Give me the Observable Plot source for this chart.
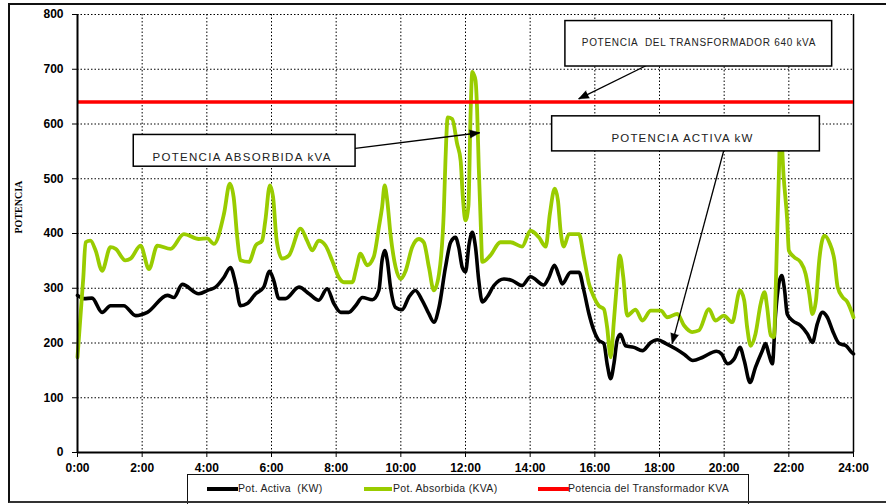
<!DOCTYPE html>
<html>
<head>
<meta charset="utf-8">
<script src="https://cdn.jsdelivr.net/npm/d3@7"></script>
<script src="https://cdn.jsdelivr.net/npm/@observablehq/plot@0.6"></script>
<style>
  body { margin: 0; background: #fff; }
  #wrap { position: relative; width: 886px; height: 504px; overflow: hidden; font-family: Arial, "Liberation Sans", sans-serif; background:#fff; }
  #chart { position: absolute; left: 0; top: 0; }
  #frame { position: absolute; left: 8px; top: 3px; width: 900px; height: 500px; box-sizing: border-box;
           border-top: 2px solid #111; border-left: 2px solid #111; border-bottom: 2px solid #333; pointer-events: none; }
  #legend { position: absolute; left: 187px; top: 474px; width: 562px; height: 32px; box-sizing: border-box;
            border: 1.5px solid #111; background: #fff; font-size: 10.5px; color: #222; }
  #legend .sw { position: absolute; top: 12px; height: 4px; }
  #legend .lb { position: absolute; top: 7px; white-space: pre; letter-spacing: 0.3px; }
</style>
</head>
<body>
<div id="wrap">
  <div id="chart"></div>
  <div id="legend"></div>
  <div id="frame"></div>
</div>
<script>
// ---- Data ----
const horasTicks = [0, 2, 4, 6, 8, 10, 12, 14, 16, 18, 20, 22, 24];
const potenciaTicks = [0, 100, 200, 300, 400, 500, 600, 700, 800];

const activaHoras = [0,0.20,0.45,0.76,1.02,1.43,1.80,2.16,2.78,2.98,
  3.24,3.75,4.06,4.27,4.53,4.73,4.89,5.04,5.25,5.51,
  5.76,5.94,6.07,6.23,6.43,6.85,7.16,7.46,7.72,7.93,
  8.14,8.39,8.60,8.81,9.12,9.32,9.42,9.50,9.58,9.68,
  9.84,10.04,10.25,10.45,10.66,10.87,11.02,11.18,11.38,11.54,
  11.69,11.79,11.90,12.00,12.11,12.21,12.31,12.41,12.52,12.67,
  12.88,13.19,13.45,13.75,14.01,14.42,14.58,14.75,14.89,14.99,
  15.25,15.51,15.66,15.82,15.97,16.12,16.28,16.38,16.49,16.59,
  16.69,16.79,16.95,17.21,17.47,17.73,17.94,18.20,18.51,18.77,
  19.03,19.34,19.76,19.92,20.10,20.31,20.49,20.62,20.80,20.97,
  21.18,21.28,21.38,21.49,21.59,21.69,21.78,21.87,21.95,22.11,
  22.36,22.57,22.73,22.88,23.04,23.19,23.35,23.56,23.77,23.94,
  24.00];
const activa = [287,281,282,256,268,268,250,256,287,283,
  307,290,297,302,320,338,308,268,272,290,
  302,331,314,281,281,302,290,278,299,272,
  256,256,268,283,279,296,351,369,351,302,
  265,261,284,296,278,253,238,265,338,384,
  393,375,338,330,380,402,375,314,275,284,
  305,317,314,305,321,306,320,342,323,308,
  329,329,296,253,223,205,199,162,135,162,
  205,216,195,192,186,201,206,199,189,179,
  168,174,185,180,162,171,192,168,128,156,
  186,199,180,162,253,308,323,296,253,241,
  232,217,201,235,256,247,223,199,195,183,
  180];

const absorbidaHoras = [0,0.18,0.25,0.40,0.56,0.76,1.02,1.18,1.48,1.64,
  1.95,2.21,2.47,2.88,3.29,3.75,4.01,4.22,4.53,4.71,
  4.83,4.94,5.04,5.30,5.51,5.71,5.81,5.95,6.05,6.16,
  6.33,6.54,6.90,7.10,7.26,7.46,7.67,7.88,8.08,8.24,
  8.50,8.63,8.75,8.96,9.16,9.32,9.42,9.50,9.58,9.68,
  9.84,9.99,10.15,10.35,10.56,10.71,10.87,11.02,11.18,11.33,
  11.38,11.45,11.59,11.74,11.85,11.91,12.00,12.09,12.16,12.21,
  12.26,12.31,12.36,12.41,12.47,12.52,12.77,13.08,13.39,13.75,
  14.01,14.27,14.48,14.61,14.76,14.86,14.94,15.04,15.20,15.51,
  15.66,15.82,15.97,16.12,16.28,16.38,16.49,16.59,16.69,16.77,
  16.88,17.00,17.26,17.47,17.73,18.04,18.24,18.55,18.76,19.01,
  19.22,19.53,19.73,19.99,20.25,20.49,20.62,20.71,20.82,20.97,
  21.13,21.25,21.33,21.44,21.54,21.59,21.64,21.69,21.74,21.84,
  21.95,22.00,22.16,22.36,22.52,22.63,22.73,22.84,22.94,23.10,
  23.25,23.41,23.51,23.66,23.81,24.00];
const absorbida = [174,320,384,387,369,332,375,372,351,354,
  378,335,378,372,399,390,391,381,436,491,
  466,393,351,348,378,387,424,488,466,387,
  354,360,409,387,369,387,378,350,320,311,
  311,338,363,342,357,411,448,488,460,399,
  338,317,332,375,390,384,338,296,326,442,
  533,612,609,564,533,473,424,450,625,695,
  690,680,625,521,420,348,360,384,384,376,
  405,393,376,436,482,460,405,376,399,399,
  357,308,284,268,262,229,174,241,314,360,
  320,250,261,241,259,259,247,253,232,220,
  223,262,241,250,238,296,278,229,195,217,
  272,293,265,214,211,290,399,503,600,503,
  424,369,357,348,326,290,253,278,351,396,
  384,351,302,284,275,247];

const potenciaTransformador = 640;

const seriesNombres = ["Pot. Activa  (KW)", "Pot. Absorbida (KVA)", "Potencia del Transformador KVA"];
const seriesColores = ["#000000", "#99cc00", "#ff0000"];

// Annotation callouts (data coordinates)
const cajas = [
  {x1: 15.09, x2: 23.34, y1: 705, y2: 788, tx: 19.22, ty: 749, texto: "POTENCIA  DEL TRANSFORMADOR 640 kVA", size: 10, ls: 0.7},
  {x1: 1.74, x2: 8.60, y1: 522, y2: 580, tx: 5.09, ty: 539, texto: "POTENCIA ABSORBIDA kVA", size: 11.5, ls: 1.3},
  {x1: 14.68, x2: 22.96, y1: 550, y2: 614, tx: 18.71, ty: 574, texto: "POTENCIA ACTIVA kW", size: 11.5, ls: 1.2}
];
const flechas = [
  {x1: 17.91, y1: 716, x2: 15.50, y2: 646},
  {x1: 8.53, y1: 555, x2: 12.44, y2: 584},
  {x1: 19.99, y1: 552, x2: 18.39, y2: 199}
];

// ---- Build tables ----
const activaData = activaHoras.map((h, i) => ({h, v: activa[i]}));
const absorbidaData = absorbidaHoras.map((h, i) => ({h, v: absorbida[i]}));

function build(puntas) {
  return Plot.plot({
    width: 886,
    height: 478,
    marginLeft: 77,
    marginRight: 33,
    marginTop: 14,
    marginBottom: 26,
    style: {fontFamily: "Arial, 'Liberation Sans', sans-serif", fontSize: "12px", fontWeight: "bold", color: "#000", background: "transparent"},
    x: {domain: [0, 24], label: null},
    y: {domain: [0, 800], label: null},
    marks: [
      Plot.gridX(horasTicks, {stroke: "#000", strokeOpacity: 1, strokeWidth: 1, strokeDasharray: "1.5,2"}),
      Plot.gridY(potenciaTicks, {stroke: "#000", strokeOpacity: 1, strokeWidth: 1, strokeDasharray: "1.5,2"}),
      Plot.ruleX([24], {stroke: "#000", strokeWidth: 1.5}),
      Plot.axisX({ticks: horasTicks, tickFormat: h => `${h}:00`, tickSize: 5, tickPadding: 6, label: null, fontWeight: "bold"}),
      Plot.axisY({ticks: potenciaTicks, tickSize: 5, tickPadding: 9, label: null, fontWeight: "bold"}),
      Plot.line(activaData, {x: "h", y: "v", stroke: seriesColores[0], strokeWidth: 3.6, curve: "monotone-x"}),
      Plot.line(absorbidaData, {x: "h", y: "v", stroke: seriesColores[1], strokeWidth: 3.8, curve: "monotone-x"}),
      Plot.ruleY([potenciaTransformador], {stroke: seriesColores[2], strokeWidth: 3.5}),
      Plot.ruleX([0], {stroke: "#000", strokeWidth: 2}),
      Plot.ruleY([0], {stroke: "#000", strokeWidth: 2}),
      Plot.link(flechas, {x1: "x1", y1: "y1", x2: "x2", y2: "y2", stroke: "#000", strokeWidth: 1.3}),
      Plot.vector(puntas, {x: "x2", y: "y2", rotate: "ang", length: 10, anchor: "end", shape: "spike", r: 4, fill: "#000", stroke: "#000", strokeWidth: 0.5}),
      Plot.rect(cajas, {x1: "x1", x2: "x2", y1: "y1", y2: "y2", fill: "#fff", stroke: "#000", strokeWidth: 1.5}),
      ...cajas.map(c => Plot.text([c], {x: "tx", y: "ty", text: "texto", fontSize: c.size, fontWeight: "normal", fill: "#222"})),
      Plot.text(["POTENCIA"], {frameAnchor: "left", dx: -59, rotate: -90, fontFamily: "'Liberation Serif', 'Times New Roman', serif", fontWeight: "bold", fontSize: 10, fill: "#000"})
    ]
  });
}

// first pass: get the scales to orient arrow heads in screen space
const base = build([]);
const sx = base.scale("x"), sy = base.scale("y");
const puntas = flechas.map(f => {
  const dx = sx.apply(f.x2) - sx.apply(f.x1);
  const dy = sy.apply(f.y2) - sy.apply(f.y1);
  return {...f, ang: Math.atan2(dx, -dy) * 180 / Math.PI};
});
const chart = build(puntas);

// letter spacing for callout texts
d3.select(chart).selectAll("text").each(function() {
  const c = cajas.find(k => k.texto === this.textContent);
  if (c) { this.setAttribute("letter-spacing", c.ls); this.style.whiteSpace = "pre"; }
});
document.getElementById("chart").appendChild(chart);

// ---- Legend (below the axis) ----
const legendPos = [{sw: 19, w: 31, lb: 50}, {sw: 176, w: 28, lb: 205}, {sw: 350, w: 31, lb: 380}];
const legend = document.getElementById("legend");
seriesNombres.forEach((n, i) => {
  const sw = document.createElement("span");
  sw.className = "sw";
  sw.style.left = legendPos[i].sw + "px";
  sw.style.width = legendPos[i].w + "px";
  sw.style.background = seriesColores[i];
  legend.appendChild(sw);
  const lb = document.createElement("span");
  lb.className = "lb";
  lb.style.left = legendPos[i].lb + "px";
  lb.textContent = n;
  legend.appendChild(lb);
});
</script>
</body>
</html>
